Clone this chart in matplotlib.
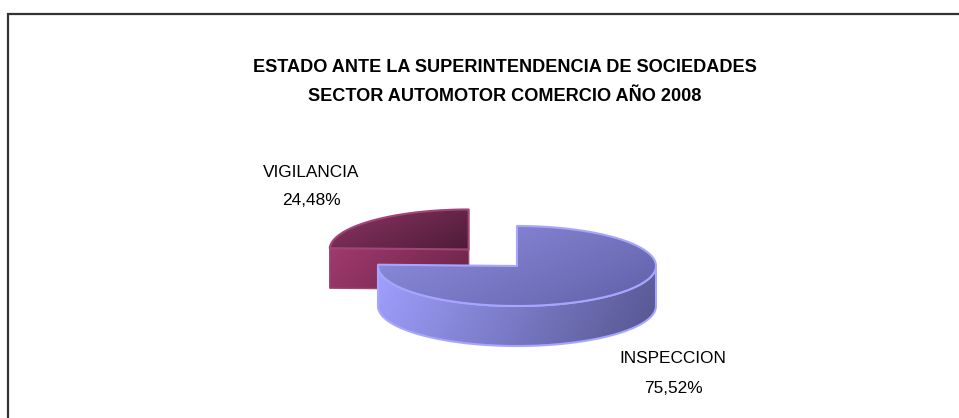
import numpy as np
import matplotlib
matplotlib.use('Agg')
import matplotlib.pyplot as plt
from matplotlib.patches import Polygon
from matplotlib.colors import LinearSegmentedColormap
from matplotlib import font_manager

# Data
labels = ['INSPECCION', 'VIGILANCIA']
values = [75.52, 24.48]
explode = [0.0, 0.5]
title_lines = ['ESTADO ANTE LA SUPERINTENDENCIA DE SOCIEDADES',
               'SECTOR AUTOMOTOR COMERCIO AÑO 2008']

# colours: (top start, top end, side start, side end, edge)
slice_colors = [
    ('#9090e2', '#6060a8', '#a0a0ff', '#55558f', '#a6a6ff'),
    ('#8c3464', '#4e1c38', '#a03a6e', '#6a2448', '#a24476'),
]
label_pos = [(673, 363, 393), (311, 177, 205)]

# pie layout (pixels)
CX, CY = 517, 266
RX, RY = 139, 40
DEPTH = 40


def has_font(name):
    try:
        font_manager.findfont(font_manager.FontProperties(family=name),
                              fallback_to_default=False)
        return True
    except ValueError:
        return False


if has_font('Liberation Sans Narrow'):
    FONT = 'Liberation Sans Narrow'
    LABEL_SIZE, TITLE_SIZE = 14, 15
else:
    FONT = 'Liberation Sans'
    LABEL_SIZE, TITLE_SIZE = 12.4, 13.1

fig = plt.figure(figsize=(9.59, 4.18), dpi=100)
ax = fig.add_axes([0, 0, 1, 1])
ax.axis('off')

zc = [1]


def grad_poly(xy, c0, c1, direction, edge, lw=1.2):
    xy = np.asarray(xy)
    z = zc[0]
    zc[0] += 1
    poly = Polygon(xy, closed=True, fc='none', ec='none', zorder=z)
    ax.add_patch(poly)
    x0, y0 = xy.min(0)
    x1, y1 = xy.max(0)
    X, Y = np.meshgrid(np.linspace(0, 1, 200), np.linspace(0, 1, 100))
    g = X * direction[0] + Y * direction[1]
    g = (g - g.min()) / (g.max() - g.min() + 1e-9)
    cmap = LinearSegmentedColormap.from_list('g', [c0, c1])
    im = ax.imshow(g, cmap=cmap, extent=(x0, x1, y1, y0), origin='upper',
                   aspect='auto', interpolation='bilinear', zorder=z)
    im.set_clip_path(poly)
    ax.add_patch(Polygon(xy, closed=True, fc='none', ec=edge, lw=lw,
                         zorder=z + 0.5, joinstyle='round'))


def rim(cx, cy, t, dy=0):
    return cx + RX * np.cos(t), cy - RY * np.sin(t) + dy


total = sum(values)
start = 90.0
slices = []
for i, v in enumerate(values):
    a1 = start
    a2 = start - v / total * 360.0
    start = a2
    mid = np.radians((a1 + a2) / 2)
    ox = explode[i] * RX * np.cos(mid)
    oy = -explode[i] * RY * np.sin(mid) * 1.15
    slices.append((np.sin(mid), i, np.radians(a1), np.radians(a2), CX + ox, CY + oy))

# back to front
for s, i, a1, a2, cx, cy in sorted(slices, key=lambda r: -r[0]):
    ct, ce, cs0, cs1, edge = slice_colors[i]
    # radial faces
    if np.cos(a1) < -1e-6:
        px, py = rim(cx, cy, a1)
        grad_poly([(cx, cy), (px, py), (px, py + DEPTH), (cx, cy + DEPTH)],
                  cs0, cs1, (1, 0.3), edge, 1.0)
    if np.cos(a2) > 1e-6:
        px, py = rim(cx, cy, a2)
        grad_poly([(cx, cy), (px, py), (px, py + DEPTH), (cx, cy + DEPTH)],
                  cs0, cs1, (1, 0.3), edge, 1.0)
    # outer wall (front half only)
    ts = np.linspace(a2, a1, 400)
    ts = ts[np.sin(ts) < 0]
    if len(ts) > 1:
        xs, ys = rim(cx, cy, ts)
        wall = np.vstack([np.column_stack([xs, ys]),
                          np.column_stack([xs[::-1], ys[::-1] + DEPTH])])
        grad_poly(wall, cs0, cs1, (1, 0.15), edge, 1.5)
    # top face
    ts = np.linspace(a1, a2, 400)
    xs, ys = rim(cx, cy, ts)
    top = np.vstack([[cx, cy], np.column_stack([xs, ys])])
    grad_poly(top, ct, ce, (1, 0.6), edge, 1.5)

# labels
for i, lab in enumerate(labels):
    x, yb1, yb2 = label_pos[i]
    pct = ('%.2f%%' % values[i]).replace('.', ',')
    ax.text(x, yb1, lab, ha='center', va='baseline', fontsize=LABEL_SIZE,
            family=FONT, color='black', zorder=50)
    ax.text(x, yb2, pct, ha='center', va='baseline', fontsize=LABEL_SIZE,
            family=FONT, color='black', zorder=50)

# title
ax.text(505, 72, title_lines[0], ha='center', va='baseline', fontsize=TITLE_SIZE,
        family=FONT, fontweight='bold', zorder=50)
ax.text(505, 101, title_lines[1], ha='center', va='baseline', fontsize=TITLE_SIZE,
        family=FONT, fontweight='bold', zorder=50)

# chart area border
ax.plot([8, 8, 960], [420, 14, 14], color='#333333', lw=1.6, zorder=60,
        solid_joinstyle='miter')

ax.set_xlim(0, 959)
ax.set_ylim(418, 0)
fig.savefig('out.png', dpi=100, facecolor='white')
